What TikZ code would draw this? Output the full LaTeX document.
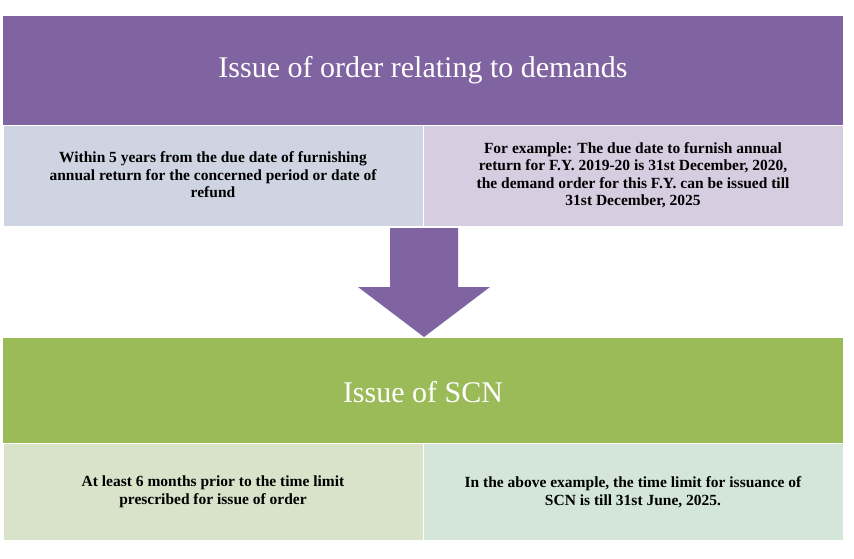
\documentclass[tikz,border=0pt]{standalone}
\usepackage{fontspec}
\setmainfont{Liberation Serif}
\begin{document}
\begin{tikzpicture}[x=1pt,y=-1pt]
\definecolor{purp}{HTML}{8064A2}
\definecolor{grn}{HTML}{9BBB59}
\definecolor{lblue}{HTML}{CED4E1}
\definecolor{lpur}{HTML}{D6CDE1}
\definecolor{lgrn}{HTML}{D8E3C9}
\definecolor{lmint}{HTML}{D3E6D9}
\tikzset{band/.style={draw=white,line width=1pt},
 small/.style={font=\bfseries\fontsize{15.5}{17.5}\selectfont,align=center},
 big/.style={font=\fontsize{30}{33}\selectfont,text=white}}
\useasboundingbox (0,0) rectangle (854,558);
\fill[white] (0,0) rectangle (854,558);
\fill[purp] (3,16) rectangle (843,125);
\node[big] (t1) at (423,70) {Issue of order relating to demands};
\fill[lblue,band] (3,125) rectangle (423,226);
\fill[lpur,band] (423,125) rectangle (843,226);
\node[small] (a) at (213,175) {Within 5 years from the due date of furnishing\\annual return for the concerned period or date of\\refund};
\node[small] (b) at (633,175) {For example: The due date to furnish annual\\return for F.Y. 2019-20 is 31st December, 2020,\\the demand order for this F.Y. can be issued till\\31st December, 2025};
\fill[purp] (390,228) -- (458,228) -- (458,287) -- (490,287) -- (424,337) -- (358,287) -- (390,287) -- cycle;
\fill[grn] (3,338) rectangle (843,443);
\node[big] (t2) at (423,392) {Issue of SCN};
\fill[lgrn,band] (3,443) rectangle (423,540);
\fill[lmint,band] (423,443) rectangle (843,540);
\node[small] (c) at (213,492) {At least 6 months prior to the time limit\\prescribed for issue of order};
\node[small] (d) at (633,492) {In the above example, the time limit for issuance of\\SCN is till 31st June, 2025.};
\end{tikzpicture}
\end{document}
